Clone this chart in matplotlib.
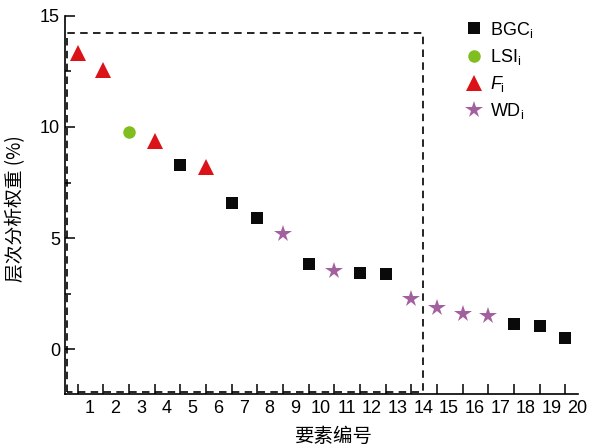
import numpy as np
import matplotlib
matplotlib.use("Agg")
from matplotlib import pyplot as plt

plt.rcParams['font.family'] = ['Liberation Sans', 'Noto Sans CJK SC', 'DejaVu Sans']
plt.rcParams['mathtext.fontset'] = 'custom'
plt.rcParams['mathtext.rm'] = 'Liberation Sans'
plt.rcParams['mathtext.it'] = 'Liberation Sans:italic'

# element number and AHP weight (%)
element_ids = list(range(1, 21))
weights = [13.3, 12.55, 9.75, 9.38, 8.27, 8.2, 6.58, 5.9, 5.2, 3.84,
           3.54, 3.42, 3.38, 2.28, 1.88, 1.6, 1.5, 1.15, 1.05, 0.52]
kinds = ['F', 'F', 'LSI', 'F', 'BGC', 'F', 'BGC', 'BGC', 'WD', 'BGC',
         'WD', 'BGC', 'BGC', 'WD', 'WD', 'WD', 'WD', 'BGC', 'BGC', 'BGC']

# legend order and look
kind_order = ['BGC', 'LSI', 'F', 'WD']
kind_labels = {'BGC': r'BGC$_\mathregular{i}$',
               'LSI': r'LSI$_\mathregular{i}$',
               'F': r'$\mathit{F}_\mathregular{i}$',
               'WD': r'WD$_\mathregular{i}$'}
kind_style = {'BGC': dict(marker='s', color='#0a0a0a', ms=8.5),
              'LSI': dict(marker='o', color='#80bd1e', ms=9),
              'F': dict(marker='^', color='#dc1219', ms=11),
              'WD': dict(marker='*', color='#a3609f', ms=13)}

# dashed box around the leading elements
box_x = (0.58, 14.46)
box_y = (-1.92, 14.2)

fig = plt.figure(figsize=(5.9, 4.47), dpi=100)
ax = fig.add_axes([0.110, 0.1186, 0.870, 0.8464])

ids = np.array(element_ids)
w = np.array(weights)
k = np.array(kinds)
for kind in kind_order:
    m = k == kind
    st = kind_style[kind]
    ax.plot(ids[m], w[m], linestyle='none', marker=st['marker'],
            color=st['color'], markersize=st['ms'], markeredgewidth=0,
            label=kind_labels[kind])

ax.plot([box_x[0], box_x[0], box_x[1], box_x[1], box_x[0]],
        [box_y[0], box_y[1], box_y[1], box_y[0], box_y[0]],
        color='black', lw=1.2, linestyle=(0, (4.5, 3.2)), zorder=1)

ax.set_xlim(0.5, 20.5)
ax.set_ylim(-2, 15)
for s in ['top', 'right']:
    ax.spines[s].set_visible(False)
ax.spines['left'].set_bounds(-2, 15)
for s in ['left', 'bottom']:
    ax.spines[s].set_linewidth(1.2)

# tick marks at the points, labels sit between them
ax.set_xticks(element_ids)
ax.set_xticklabels([])
ax.set_xticks([i + 0.47 for i in element_ids], minor=True)
ax.set_xticklabels([str(i) for i in element_ids], minor=True)
ax.tick_params(axis='x', which='major', direction='in', length=7, width=1.1)
ax.tick_params(axis='x', which='minor', length=0, labelsize=13, pad=4)

ax.set_yticks([0, 5, 10, 15])
ax.set_yticks([2.5, 7.5, 12.5], minor=True)
ax.tick_params(axis='y', which='major', direction='in', length=7, width=1.1,
               labelsize=13)
ax.tick_params(axis='y', which='minor', direction='in', length=4, width=1.1)

ax.set_xlabel('要素编号', fontsize=14, family=['Noto Sans CJK SC'])
ax.xaxis.set_label_coords(0.525, -0.085)
ax.set_ylabel('层次分析权重 (%)', fontsize=13.5,
              family=['Noto Sans CJK SC', 'Liberation Sans'])
ax.yaxis.set_label_coords(-0.076, 0.49)

ax.legend(loc='upper left', bbox_to_anchor=(0.772, 0.972),
          bbox_transform=fig.transFigure, frameon=False, fontsize=13,
          handletextpad=0.3, labelspacing=0.4, borderaxespad=0,
          handlelength=1.2)

fig.savefig('out.png', dpi=100)
